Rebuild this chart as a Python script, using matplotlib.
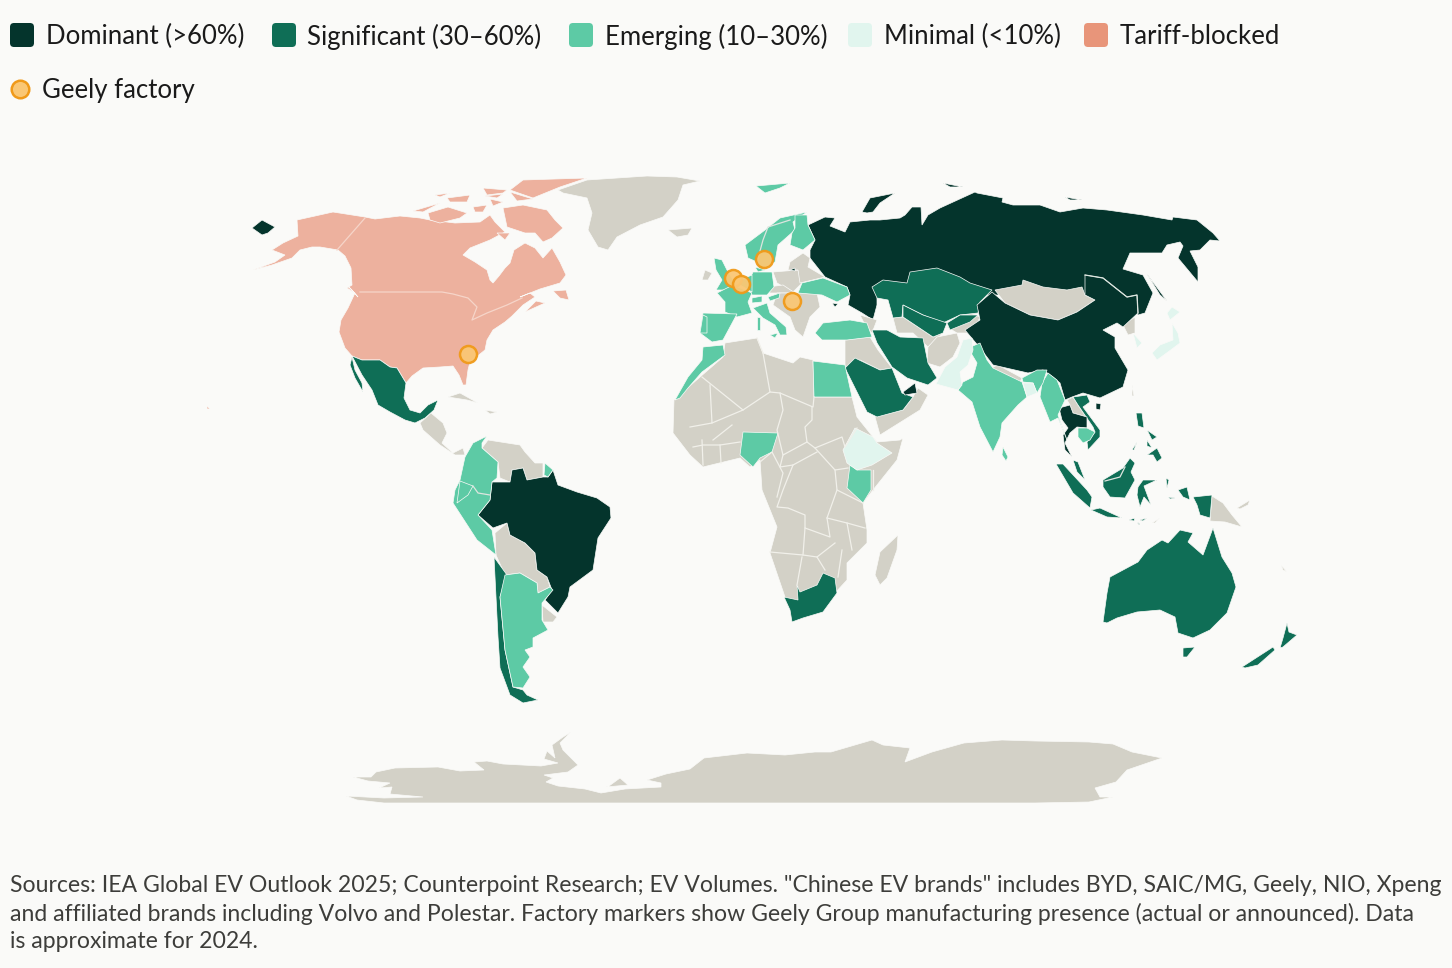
""" World map of Chinese EV brand market share, with Geely factories. """
import matplotlib
matplotlib.use("Agg")
import matplotlib.pyplot as plt
from matplotlib.patches import FancyBboxPatch

plt.rcParams['font.family'] = ['Lato', 'DejaVu Sans']

BG = '#FAFAF8'
TIER_COLORS = {'dominant': '#04342C', 'significant': '#0F6E56', 'emerging': '#5DCAA5',
               'minimal': '#E1F5EE', 'tariff': '#EDB19E', 'none': '#D3D1C7'}

legend_labels = ['Dominant (>60%)', 'Significant (30–60%)', 'Emerging (10–30%)',
                 'Minimal (<10%)', 'Tariff-blocked']
legend_colors = ['#04342C', '#0F6E56', '#5DCAA5', '#E1F5EE', '#E8957A']
factory_label = 'Geely factory'
source_lines = [
    'Sources: IEA Global EV Outlook 2025; Counterpoint Research; EV Volumes. "Chinese EV brands" includes BYD, SAIC/MG, Geely, NIO, Xpeng',
    'and affiliated brands including Volvo and Polestar. Factory markers show Geely Group manufacturing presence (actual or announced). Data',
    'is approximate for 2024.',
]

# factory sites, in map units
factory_x = [468, 733, 741, 764, 792]
factory_y = [354, 278, 284, 259, 301]

# outlines, map units
russia = [(808,225),(825,217),(835,218),(830,226),(845,232),(850,222),(870,220),(880,220),(900,218),(905,215),(912,207),(921,207),(922,225),(928,215),(940,208),(975,192),(977,193),(1003,198),(1002,202),(1013,205),(1040,205),(1060,212),(1083,208),(1107,210),(1143,215),(1172,220),(1173,217),(1197,220),(1213,233),(1220,241),(1210,240),(1200,250),(1190,251),(1198,267),(1198,282),(1178,258),(1183,246),(1180,242),(1167,245),(1162,253),(1130,253),(1123,269),(1143,275),(1153,293),(1145,313),(1138,315),(1130,305),(1090,295),(1000,295),(960,295),(900,295),(877,298),(877,305),(873,320),(862,313),(848,305),(850,295),(847,287),(825,277),(810,258),(810,250),(815,240)]

none_shapes = [
    [(558,190),(587,180),(647,176),(677,177),(700,181),(683,185),(678,200),(663,217),(640,225),(617,237),(608,250),(598,247),(588,230),(592,213),(587,198),(563,193)],
    [(668,230),(692,228),(688,235),(677,237)],
    [(702,280),(705,270),(712,273),(708,280)],
    [(773,272),(798,270),(802,283),(793,292),(777,283)],
    [(768,287),(783,285),(795,293),(780,293),(770,293)],
    [(777,293),(817,293),(820,307),(810,317),(803,337),(795,330),(790,317),(773,305)],
    [(790,262),(803,253),(810,258),(808,267),(825,277),(800,283),(798,270),(788,270)],
    [(860,315),(877,320),(872,333),(865,325)],
    [(845,340),(870,337),(878,350),(892,368),(880,370),(860,360),(845,368)],
    [(875,417),(903,410),(913,397),(918,388),(928,395),(920,410),(880,435)],
    [(893,318),(903,317),(933,337),(943,333),(928,347),(913,333),(897,333)],
    [(928,347),(937,337),(957,333),(960,343),(953,357),(940,367),(927,363)],
    [(947,327),(970,313),(980,317),(973,333),(957,333)],
    # africa
    [(725,343),(757,338),(763,353),(793,363),(800,357),(813,360),(814,397),(852,397),(857,417),(873,437),(877,442),(900,440),(903,438),(897,460),(873,490),(863,503),(867,530),(867,543),(847,563),(847,580),(835,593),(820,610),(790,610),(785,597),(770,553),(777,527),(762,490),(760,460),(750,467),(740,458),(703,467),(690,455),(673,433),(674,400),(700,377),(723,357)],
    [(898,535),(897,550),(887,578),(880,585),(875,575),(880,552)],
    # central and south america
    [(420,423),(431,413),(443,423),(447,433),(442,443),(453,453),(463,448),(465,455),(455,455),(440,445),(423,430)],
    [(448,397),(460,393),(478,403),(467,400)],
    [(485,410),(497,412),(490,414)],
    [(482,448),(488,440),(520,445),(525,452),(535,463),(543,463),(543,477),(527,480),(523,468),(512,470),(510,482),(500,478),(498,462)],
    [(495,533),(507,523),(510,535),(525,543),(535,553),(537,570),(547,577),(550,587),(538,593),(537,583),(520,573),(505,575),(496,555)],
    [(542,605),(557,617),(553,622),(543,622)],
    # asia and pacific
    [(995,290),(1022,285),(1023,280),(1043,287),(1067,290),(1082,287),(1085,295),(1095,300),(1077,312),(1058,320),(1030,315),(1005,303)],
    [(1123,325),(1135,317),(1135,333),(1128,335)],
    [(993,367),(998,365),(1022,378),(1020,382),(993,373)],
    [(1067,400),(1073,397),(1078,405),(1093,427),(1087,417),(1073,413),(1070,405)],
    [(1212,496),(1223,503),(1232,515),(1242,527),(1225,522),(1210,521)],
    [(1237,508),(1250,500),(1248,505),(1240,509)],
    [(1152,523),(1160,518),(1155,523)],
    [(1281,565),(1287,572),(1283,570)],
    [(1132,385),(1134,396),(1132,396)],
    # antarctica
    [(346,796),(384,798),(423,797),(390,794),(392,787),(379,788),(390,783),(368,781),(353,777),(371,777),(376,772),(395,768),(438,767),(460,771),(484,770),(474,762),(487,761),(503,764),(541,766),(558,763),(544,759),(547,751),(555,758),(552,745),(563,737),(571,732),(560,743),(563,750),(578,765),(568,772),(544,775),(553,778),(546,782),(558,786),(585,789),(601,793),(625,789),(661,787),(661,783),(647,780),(666,774),(690,769),(704,758),(747,753),(785,755),(815,752),(831,752),(872,740),(883,745),(910,748),(905,762),(932,752),(964,743),(1002,740),(1035,741),(1089,742),(1113,744),(1132,752),(1162,758),(1127,770),(1116,782),(1095,788),(1100,797),(1113,797),(1089,802),(1035,803),(384,803),(357,800)],
    [(609,786),(620,778),(628,785),(606,787)],
]

tariff_shapes = [
    # canada, alaska and the lower 48
    [(253,270),(275,262),(285,255),(272,250),(283,243),(298,236),(297,220),(315,216),(333,212),(365,217),(375,219),(400,216),(420,218),(430,220),(455,223),(480,222),(490,215),(495,222),(505,232),(490,240),(470,248),(463,255),(475,262),(487,270),(490,280),(493,283),(499,276),(505,268),(510,263),(514,250),(525,243),(535,248),(543,258),(552,248),(560,262),(566,275),(560,283),(540,289),(520,297),(530,293),(535,297),(523,305),(512,316),(505,322),(493,330),(487,340),(485,350),(470,362),(468,370),(466,385),(463,385),(459,375),(453,366),(440,367),(423,368),(412,376),(406,383),(397,368),(390,367),(380,360),(362,360),(352,356),(345,348),(339,332),(341,320),(348,308),(355,293),(347,288),(352,285),(351,268),(345,256),(338,250),(320,247),(312,247),(300,250),(292,258),(272,265)],
    [(503,208),(523,205),(547,210),(555,220),(563,228),(552,238),(543,242),(535,233),(525,233),(507,227)],
    [(428,213),(448,207),(467,213),(460,218),(440,223),(430,220)],
    [(413,211),(440,203),(423,212)],
    [(523,180),(587,178),(560,187),(533,198),(510,190)],
    [(483,188),(507,190),(503,193),(487,195)],
    [(485,196),(503,194),(497,198)],
    [(510,192),(523,196),(533,199),(517,201)],
    [(447,198),(470,195),(467,202),(450,202)],
    [(473,207),(487,205),(483,212),(475,212)],
    [(435,195),(450,193),(440,197)],
    [(490,199),(503,202),(493,206)],
    [(497,233),(510,233),(505,240)],
    [(347,285),(358,297),(352,290)],
    [(553,291),(566,290),(569,300),(560,298)],
    [(525,312),(545,303),(536,301)],
    [(207,406),(210,409),(207,409)],
]

dominant_shapes = [
    [(252,228),(262,220),(275,227),(268,233),(262,235)],
    [(862,212),(870,198),(895,193),(880,203),(873,212),(867,213)],
    [(943,183),(963,187),(950,187)],
    [(1065,197),(1082,200),(1070,200)],
    [(1147,274),(1167,301),(1160,295)],
    [(790,270),(795,268),(795,271)],
    [(832,303),(838,304),(835,307)],
    [(903,392),(915,383),(917,393),(905,395)],
    # china
    [(965,330),(980,320),(977,305),(992,292),(1005,303),(1030,315),(1058,320),(1077,312),(1095,300),(1085,295),(1085,275),(1103,278),(1127,297),(1137,295),(1138,313),(1123,327),(1117,323),(1103,330),(1115,337),(1115,348),(1128,370),(1123,387),(1100,398),(1083,393),(1072,397),(1065,400),(1060,383),(1053,377),(1043,370),(1028,373),(993,365),(980,348)],
    [(1096,403),(1101,404),(1100,410),(1096,409)],
    # thailand
    [(1059,408),(1070,405),(1073,413),(1087,417),(1087,428),(1077,427),(1070,433),(1065,443),(1072,457),(1065,450),(1063,435),(1068,428),(1062,420)],
    # brazil
    [(492,482),(510,482),(512,470),(523,468),(527,480),(543,477),(548,477),(553,470),(558,485),(577,492),(597,498),(610,507),(611,518),(598,538),(593,570),(570,587),(568,597),(558,613),(545,600),(552,590),(547,577),(537,570),(535,553),(525,543),(510,535),(507,523),(493,528),(478,515),(490,500)],
]

significant_shapes = [
    [(352,356),(362,360),(380,360),(390,367),(397,368),(406,383),(404,398),(410,410),(420,413),(428,405),(438,400),(434,410),(425,418),(415,423),(405,420),(390,412),(378,405),(372,390),(362,375)],
    [(352,357),(355,370),(362,383),(363,392),(355,378),(350,365)],
    # kazakhstan, uzbekistan, kyrgyzstan
    [(872,287),(883,280),(907,283),(910,272),(937,268),(960,277),(970,283),(992,290),(980,302),(978,313),(960,315),(943,323),(923,315),(903,305),(902,317),(893,318),(888,300),(877,298)],
    [(903,305),(923,315),(947,323),(943,333),(933,337),(903,317)],
    [(947,323),(960,315),(978,315),(970,322),(950,330)],
    # iran, saudi arabia
    [(872,330),(887,330),(900,337),(923,338),(928,363),(937,378),(928,385),(907,378),(892,367),(877,343)],
    [(845,368),(855,358),(880,370),(892,368),(902,393),(913,397),(903,410),(877,417),(867,412)],
    # south africa
    [(784,597),(798,600),(797,585),(800,592),(817,585),(823,573),(835,578),(837,593),(823,612),(803,618),(792,622),(790,610)],
    # chile
    [(494,557),(507,575),(500,597),(505,650),(513,687),(523,690),(527,695),(538,700),(523,703),(510,695),(500,668),(498,637),(496,597)],
    # southeast asia
    [(1073,397),(1087,395),(1090,402),(1083,407),(1100,430),(1100,437),(1088,450),(1087,442),(1095,432),(1093,427),(1078,405)],
    [(1073,460),(1078,462),(1085,480),(1077,472)],
    [(1056,464),(1063,464),(1087,490),(1092,497),(1090,508),(1073,493)],
    [(1091,510),(1100,508),(1122,518),(1107,517)],
    [(1103,480),(1123,468),(1130,458),(1135,463),(1131,472),(1135,480),(1125,498),(1110,497),(1103,487)],
    [(1138,487),(1143,480),(1157,480),(1144,486),(1151,505),(1144,497),(1140,507),(1137,495)],
    [(1136,413),(1142,413),(1144,428),(1138,426)],
    [(1147,455),(1157,448),(1162,458),(1157,462),(1153,455)],
    [(1147,430),(1157,437),(1152,440)],
    [(1147,440),(1152,448),(1147,446)],
    [(1132,450),(1137,442),(1134,450)],
    [(1193,497),(1212,495),(1210,518),(1200,515),(1197,505)],
    [(1178,490),(1187,487),(1190,500),(1183,497)],
    [(1166,478),(1169,480),(1167,488)],
    [(1168,497),(1175,498),(1170,499)],
    [(1129,520),(1135,518),(1134,521)],
    [(1137,522),(1140,524),(1139,525)],
    [(1140,520),(1147,518),(1143,521)],
    # australia and new zealand
    [(1103,622),(1107,593),(1110,577),(1138,562),(1147,550),(1162,540),(1168,543),(1180,530),(1193,533),(1188,542),(1203,555),(1213,528),(1222,557),(1232,573),(1236,587),(1227,613),(1210,630),(1193,638),(1178,633),(1175,617),(1160,610),(1137,612),(1117,618),(1107,623)],
    [(1183,648),(1195,647),(1187,657),(1183,657)],
    [(1287,623),(1289,632),(1297,635),(1283,647),(1280,648),(1283,638)],
    [(1273,647),(1275,650),(1258,665),(1245,668),(1242,667)],
]

emerging_shapes = [
    [(756,186),(790,183),(780,188),(765,193)],
    # nordics
    [(745,245),(765,230),(780,218),(807,212),(793,222),(795,230),(778,245),(775,262),(760,270),(757,262),(748,258)],
    [(790,245),(792,233),(795,228),(795,215),(807,215),(808,225),(815,240),(803,250)],
    [(755,267),(765,270),(758,272)],
    # western europe
    [(714,258),(722,260),(727,270),(735,283),(736,290),(716,290),(722,280),(716,270)],
    [(717,293),(733,285),(752,293),(748,302),(752,313),(737,317),(725,312),(725,302)],
    [(753,272),(772,272),(774,287),(767,295),(752,295),(748,283)],
    [(740,280),(752,275),(752,292),(740,285)],
    [(753,308),(767,303),(770,313),(786,327),(787,335),(780,335),(775,325),(763,318),(757,312)],
    [(770,335),(778,333),(775,338)],
    [(757,317),(760,317),(760,330),(757,330)],
    [(768,297),(780,293),(779,298),(770,301)],
    [(752,298),(762,296),(762,302),(752,303)],
    [(703,313),(737,314),(723,340),(712,342),(700,333)],
    [(703,315),(707,317),(707,333),(700,333)],
    [(802,283),(823,278),(847,287),(850,295),(837,302),(822,295),(798,293)],
    [(815,333),(823,323),(850,320),(867,323),(872,337),(847,340),(822,340)],
    # africa
    [(675,400),(688,377),(702,360),(703,347),(723,345),(725,355),(702,372),(688,388),(680,398)],
    [(813,361),(845,365),(852,397),(814,397)],
    [(743,432),(778,433),(772,452),(760,458),(753,467),(740,455)],
    [(850,465),(857,470),(871,470),(871,490),(863,503),(847,488)],
    # south america
    [(487,436),(482,443),(482,448),(498,462),(497,478),(492,482),(490,500),(478,515),(492,530),(496,555),(477,540),(453,503),(455,490),(460,480),(465,457),(473,443)],
    [(460,481),(473,486),(468,495),(457,503)],
    [(545,463),(553,470),(548,477),(544,475)],
    [(505,575),(520,573),(537,583),(538,593),(550,587),(553,590),(542,603),(542,620),(548,630),(533,638),(533,647),(525,650),(530,657),(523,667),(530,677),(523,688),(513,687),(505,650),(500,597)],
    # south asia
    [(968,348),(980,343),(987,360),(993,368),(1022,382),(1027,397),(1018,405),(1002,423),(1000,437),(993,452),(980,427),(972,402),(958,390),(963,382),(973,377),(977,363)],
    [(1042,383),(1048,373),(1057,380),(1065,400),(1058,415),(1067,440),(1058,418),(1050,422),(1040,397)],
    [(1022,378),(1037,370),(1047,370),(1043,383),(1037,393),(1033,383),(1023,382)],
    [(1003,447),(1008,457),(1006,461),(1002,455)],
    [(1078,428),(1087,428),(1095,432),(1090,440),(1083,443),(1078,437)],
]

minimal_shapes = [
    [(936,384),(945,367),(957,357),(963,340),(972,338),(973,350),(968,365),(960,372),(962,385),(958,390)],
    [(1023,383),(1033,383),(1037,393),(1027,397)],
    [(855,428),(873,437),(877,443),(892,453),(872,465),(857,470),(847,463),(843,450)],
    [(1133,333),(1142,343),(1137,348)],
    [(1152,353),(1160,345),(1173,340),(1172,323),(1178,333),(1180,343),(1168,352),(1157,360)],
    [(1167,313),(1172,307),(1180,312),(1170,320)],
]

# interior borders that do not follow a shape edge
tariff_borders = [
    [(365,218),(337,250)],
    [(360,292),(442,292),(453,294),(468,298),(477,307),(472,320),(487,313),(507,305),(522,298)],
]
africa_borders = [
    [(702,377),(743,410),(770,392),(763,353)],
    [(757,338),(763,353)],
    [(770,392),(780,393),(813,407),(814,397)],
    [(780,393),(783,410),(777,430),(783,455),(807,442),(805,427),(812,420),(812,407)],
    [(807,442),(815,448),(842,437),(845,447),(857,428)],
    [(783,455),(780,467),(793,465),(817,452)],
    [(815,448),(835,470),(848,468)],
    [(793,465),(783,490),(777,507),(788,508),(805,515),(805,528),(830,537),(827,518),(837,490),(835,470)],
    [(837,490),(863,503)],
    [(827,518),(847,523),(865,528)],
    [(770,552),(803,555),(817,557),(835,543)],
    [(805,528),(803,555)],
    [(802,557),(797,585)],
    [(817,557),(825,570)],
    [(842,550),(838,577)],
    [(847,523),(852,550)],
    [(710,385),(712,423),(690,427)],
    [(712,423),(743,410)],
    [(693,447),(703,445),(720,445),(740,442)],
    [(720,445),(721,463)],
    [(702,440),(703,465)],
    [(732,425),(713,440)],
    [(760,462),(772,452),(783,473),(777,497)],
    [(873,490),(873,470)],
]
other_borders = [
    [(473,486),(478,493),(490,495)],
    [(1105,481),(1120,477),(1125,467)],
    [(1085,275),(1103,278),(1127,297),(1137,295),(1138,313)],
    [(757,262),(763,240),(768,227),(790,220)],
]


def draw_shapes(ax, shapes, color):
    """ Fills each outline in one colour, with a thin background edge. """
    for shape in shapes:
        xs, ys = zip(*shape)
        ax.fill(xs, ys, facecolor=color, edgecolor=BG, linewidth=0.5)


def draw_borders(ax, borders, color):
    for border in borders:
        xs, ys = zip(*border)
        ax.plot(xs, ys, color=color, linewidth=0.9)


fig = plt.figure(figsize=(14.52, 9.68), dpi=100, facecolor=BG)
ax = fig.add_axes([0, 0, 1, 1])
ax.set_xlim(0, 1452)
ax.set_ylim(968, 0)
ax.axis('off')

draw_shapes(ax, [russia], TIER_COLORS['dominant'])
draw_shapes(ax, none_shapes, TIER_COLORS['none'])
draw_shapes(ax, tariff_shapes, TIER_COLORS['tariff'])
draw_shapes(ax, significant_shapes, TIER_COLORS['significant'])
draw_shapes(ax, dominant_shapes, TIER_COLORS['dominant'])
draw_shapes(ax, emerging_shapes, TIER_COLORS['emerging'])
draw_shapes(ax, minimal_shapes, TIER_COLORS['minimal'])
draw_borders(ax, tariff_borders, '#F6D5C9')
draw_borders(ax, africa_borders, '#F1F0EA')
draw_borders(ax, other_borders, '#DDE5DF')

ax.scatter(factory_x, factory_y, s=150, facecolor='#FAC775', edgecolor='#F09A1A',
           linewidth=1.8, alpha=0.95, zorder=5)

# legend
swatch_x = [10, 272, 569, 848, 1084]
label_x = [46, 307, 605, 884, 1120]
for sx, tx, label, color in zip(swatch_x, label_x, legend_labels, legend_colors):
    ax.add_patch(FancyBboxPatch((sx + 3, 26), 18, 18, boxstyle='round,pad=3,rounding_size=4',
                                facecolor=color, edgecolor='none'))
    ax.text(tx, 36.5, label, fontsize=18.5, color='#1a1a1a', va='center', ha='left')
ax.scatter([20], [89], s=160, facecolor='#FAC775', edgecolor='#F09A1A', linewidth=1.8)
ax.text(42, 90.5, factory_label, fontsize=18.5, color='#1a1a1a', va='center', ha='left')

for y, line in zip([886, 914, 942], source_lines):
    ax.text(10, y, line, fontsize=16.6, color='#3d3d3a', va='center', ha='left')

fig.savefig('out.png', dpi=100, facecolor=BG)
